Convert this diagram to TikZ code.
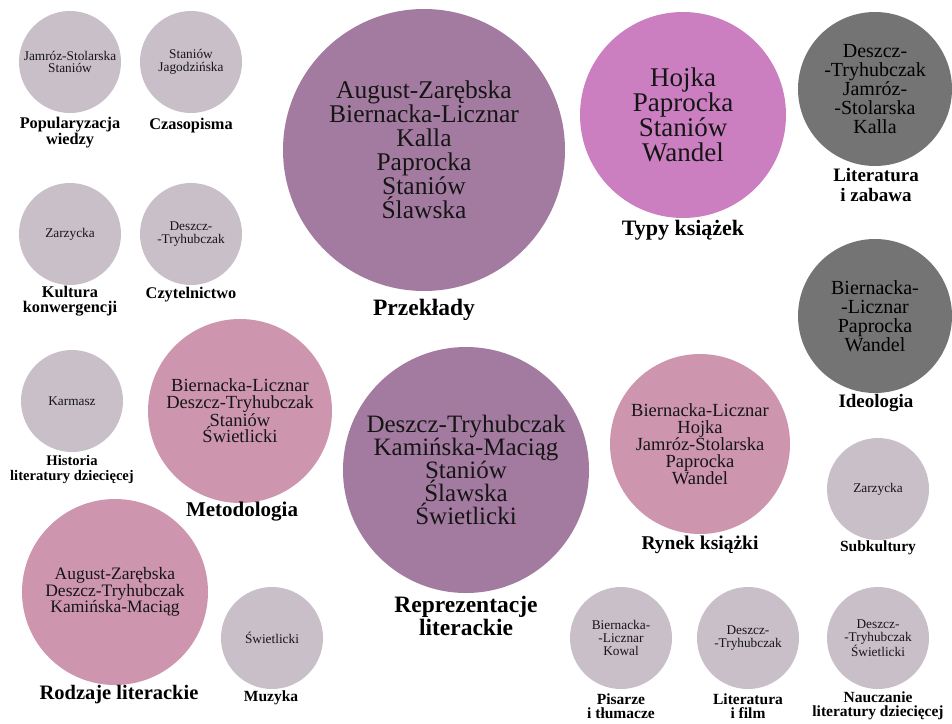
\documentclass[tikz,border=0pt]{standalone}
\usepackage{fontspec}
\setmainfont{Liberation Serif}
\definecolor{cLight}{HTML}{C9BFC9}
\definecolor{cMauve}{HTML}{A47BA0}
\definecolor{cRose}{HTML}{CD96AE}
\definecolor{cOrchid}{HTML}{CB7FC1}
\definecolor{cDark}{HTML}{747474}
\definecolor{cText}{HTML}{151515}
\tikzset{
  bub/.style={circle, inner sep=0pt, align=center, text=cText},
  smallbub/.style={bub, fill=cLight, minimum size=102pt, font=\fontsize{13.3}{12.8}\selectfont},
  lab/.style={align=center, inner sep=0pt, text=black, font=\bfseries\fontsize{15.5}{14.5}\selectfont},
  labA/.style={lab, font=\bfseries\fontsize{16.3}{14.8}\selectfont},
}
\begin{document}
\begin{tikzpicture}[x=1pt,y=-1pt]
\useasboundingbox (0,0) rectangle (952,723);
% small circles
\node[smallbub] (pop) at (70,62) {Jamróz-Stolarska\\Staniów};
\node[smallbub] (cza) at (191,62) {Staniów\\Jagodzińska};
\node[smallbub] (kul) at (70,234) {Zarzycka};
\node[smallbub] (czy) at (191,234) {Deszcz-\\-Tryhubczak};
\node[smallbub] (his) at (72,401) {Karmasz};
\node[smallbub] (muz) at (272,638) {Świetlicki};
\node[smallbub] (sub) at (878,489) {Zarzycka};
\node[smallbub] (pis) at (621,638) {Biernacka-\\-Licznar\\Kowal};
\node[smallbub] (fil) at (748,638) {Deszcz-\\-Tryhubczak};
\node[smallbub] (nau) at (878,638) {Deszcz-\\-Tryhubczak\\Świetlicki};
% big circles
\node[bub, fill=cMauve, minimum size=282pt, font=\fontsize{25.5}{24}\selectfont] (prz) at (424,150)
  {August-Zarębska\\Biernacka-Licznar\\Kalla\\Paprocka\\Staniów\\Ślawska};
\node[bub, fill=cMauve, minimum size=246pt, font=\fontsize{25}{23}\selectfont] (rep) at (466,470)
  {Deszcz-Tryhubczak\\Kamińska-Maciąg\\Staniów\\Ślawska\\Świetlicki};
\node[bub, fill=cOrchid, minimum size=206pt, font=\fontsize{27}{25}\selectfont] (typ) at (683,115)
  {Hojka\\Paprocka\\Staniów\\Wandel};
\node[bub, fill=cDark, text=black, minimum size=154pt, font=\fontsize{20}{19}\selectfont] (zab) at (875,89)
  {Deszcz-\\-Tryhubczak\\Jamróz-\\-Stolarska\\Kalla};
\node[bub, fill=cDark, text=black, minimum size=154pt, font=\fontsize{20}{19}\selectfont] (ide) at (875,316)
  {Biernacka-\\-Licznar\\Paprocka\\Wandel};
\node[bub, fill=cRose, minimum size=184pt, font=\fontsize{18.5}{16.7}\selectfont] (met) at (240,411)
  {Biernacka-Licznar\\Deszcz-Tryhubczak\\Staniów\\Świetlicki};
\node[bub, fill=cRose, minimum size=180pt, font=\fontsize{18.5}{17}\selectfont] (ryn) at (700,444)
  {Biernacka-Licznar\\Hojka\\Jamróz-Stolarska\\Paprocka\\Wandel};
\node[bub, fill=cRose, minimum size=186pt, font=\fontsize{17.5}{16.7}\selectfont] (rod) at (115,592)
  {August-Zarębska\\Deszcz-Tryhubczak\\Kamińska-Maciąg};
% labels
\node[labA] (popL) at (70,132.5) {Popularyzacja\\wiedzy};
\node[labA] (czaL) at (191,126) {Czasopisma};
\node[labA] (kulL) at (70,301.5) {Kultura\\konwergencji};
\node[labA] (czyL) at (191,295) {Czytelnictwo};
\node[lab, font=\bfseries\fontsize{14.6}{14.5}\selectfont] (hisL) at (72,469.5) {Historia\\literatury dziecięcej};
\node[lab] (muzL) at (271,698) {Muzyka};
\node[lab] (subL) at (878,548) {Subkultury};
\node[lab] (pisL) at (621,706) {Pisarze\\i tłumacze};
\node[lab] (filL) at (748,706) {Literatura\\i film};
\node[lab] (nauL) at (878,706) {Nauczanie\\literatury dziecięcej};
\node[lab, font=\bfseries\fontsize{23.5}{23}\selectfont] (przL) at (424,310) {Przekłady};
\node[lab, font=\bfseries\fontsize{23.5}{23}\selectfont] (repL) at (466,616) {Reprezentacje\\literackie};
\node[lab, font=\bfseries\fontsize{22}{22}\selectfont] (typL) at (683,230) {Typy książek};
\node[lab, font=\bfseries\fontsize{19}{20}\selectfont] (zabL) at (876,185) {Literatura\\i zabawa};
\node[lab, font=\bfseries\fontsize{19}{20}\selectfont] (ideL) at (876,403) {Ideologia};
\node[lab, font=\bfseries\fontsize{21}{21}\selectfont] (metL) at (242,512) {Metodologia};
\node[lab, font=\bfseries\fontsize{19.5}{19.5}\selectfont] (rynL) at (700,545) {Rynek książki};
\node[lab, font=\bfseries\fontsize{20.5}{20.5}\selectfont] (rodL) at (119,695) {Rodzaje literackie};
\end{tikzpicture}
\end{document}
